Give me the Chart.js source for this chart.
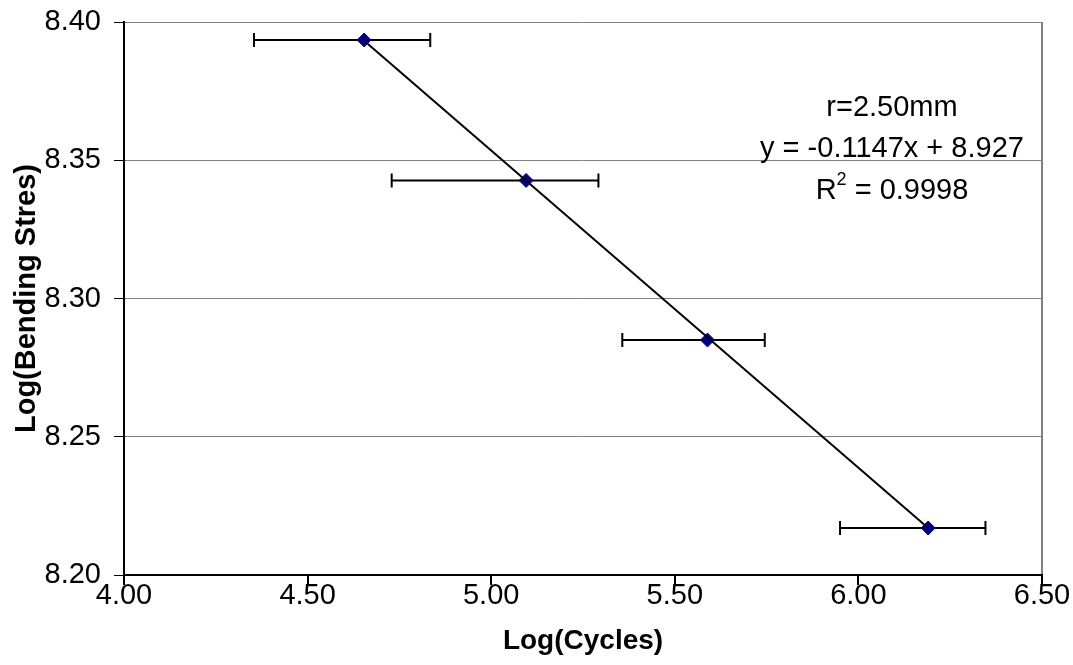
<!DOCTYPE html>
<html>
<head>
<meta charset="utf-8">
<script src="https://cdn.jsdelivr.net/npm/chart.js@4.4.0/dist/chart.umd.min.js"></script>
<style>
    body { margin: 0; background: #fff; }
</style>
</head>
<body>
<canvas id="fatigueChart" width="1073" height="665"></canvas>
<script>
// Data
const logCycles = [4.654, 5.095, 5.589, 6.190];
const logStress = [8.3935, 8.3427, 8.2850, 8.2170];
const cyclesLow = [4.354, 4.729, 5.357, 5.950];
const cyclesHigh = [4.834, 5.292, 5.745, 6.346];
const trendSlope = -0.1147;
const trendIntercept = 8.927;
const xTicks = [4.0, 6.5, 0.5];   // min, max, step
const yTicks = [8.2, 8.4, 0.05];
const noteLines = ['r=2.50mm', 'y = -0.1147x + 8.927', '0.9998'];

const FONT = '"Liberation Sans", Arial, sans-serif';

// Trendline spans the data range, like Excel does
const trendX = [logCycles[0], logCycles[logCycles.length - 1]];
const trendPoints = trendX.map(x => ({ x: x, y: trendSlope * x + trendIntercept }));

const errorBarPlugin = {
    id: 'errorBars',
    beforeDatasetsDraw(chart) {
        const { ctx, scales: { x, y } } = chart;
        ctx.save();
        ctx.strokeStyle = '#000';
        ctx.lineWidth = 2;
        logCycles.forEach((v, i) => {
            const py = y.getPixelForValue(logStress[i]);
            const x1 = x.getPixelForValue(cyclesLow[i]);
            const x2 = x.getPixelForValue(cyclesHigh[i]);
            ctx.beginPath();
            ctx.moveTo(x1, py);
            ctx.lineTo(x2, py);
            ctx.moveTo(x1, py - 7);
            ctx.lineTo(x1, py + 7);
            ctx.moveTo(x2, py - 7);
            ctx.lineTo(x2, py + 7);
            ctx.stroke();
        });
        ctx.restore();
    }
};

const notePlugin = {
    id: 'trendNote',
    afterDraw(chart) {
        const ctx = chart.ctx;
        const cx = 892;
        ctx.save();
        ctx.fillStyle = '#000';
        ctx.textBaseline = 'alphabetic';
        ctx.textAlign = 'center';
        ctx.font = '29px ' + FONT;
        ctx.fillText(noteLines[0], cx, 116);
        ctx.fillText(noteLines[1], cx, 157);

        // R² line with a raised 2
        const rest = ' = ' + noteLines[2];
        const wR = ctx.measureText('R').width;
        const wRest = ctx.measureText(rest).width;
        ctx.font = '18px ' + FONT;
        const wSup = ctx.measureText('2').width;
        let start = cx - (wR + wSup + wRest) / 2;
        ctx.textAlign = 'left';
        ctx.font = '29px ' + FONT;
        ctx.fillText('R', start, 199);
        ctx.font = '18px ' + FONT;
        ctx.fillText('2', start + wR, 185);
        ctx.font = '29px ' + FONT;
        ctx.fillText(rest, start + wR + wSup, 199);
        ctx.restore();
    }
};

const ctx = document.getElementById('fatigueChart').getContext('2d');
new Chart(ctx, {
    type: 'scatter',
    data: {
        datasets: [{
            label: 'Trend',
            type: 'line',
            data: trendPoints,
            borderColor: '#000',
            borderWidth: 2,
            pointRadius: 0,
            fill: false,
            order: 0
        }, {
            label: 'r=2.50mm',
            data: logCycles.map((x, i) => ({ x: x, y: logStress[i] })),
            pointStyle: 'rectRot',
            pointRadius: 7,
            backgroundColor: '#000080',
            borderColor: '#000080',
            borderWidth: 1,
            order: 1
        }]
    },
    options: {
        responsive: false,
        animation: false,
        layout: { padding: { top: 22, right: 31, left: 0, bottom: 0 } },
        plugins: {
            legend: { display: false },
            tooltip: { enabled: false }
        },
        scales: {
            x: {
                type: 'linear',
                min: xTicks[0],
                max: xTicks[1],
                ticks: {
                    stepSize: xTicks[2],
                    callback: v => v.toFixed(2),
                    color: '#000',
                    font: { family: FONT, size: 29 },
                    padding: -6,
                    maxRotation: 0
                },
                grid: {
                    color: c => (c.tick && Math.abs(c.tick.value - xTicks[1]) < 1e-6) ? '#808080' : 'transparent',
                    lineWidth: 2,
                    tickColor: '#000',
                    tickLength: 10
                },
                border: { color: '#000', width: 2 },
                title: {
                    display: true,
                    text: 'Log(Cycles)',
                    color: '#000',
                    font: { family: FONT, size: 28, weight: 'bold' },
                    padding: { top: 0, bottom: 7 }
                },
                afterFit: s => {
                    s.height = 90;
                    s.paddingLeft = 0;
                    s.paddingRight = 0;
                }
            },
            y: {
                min: yTicks[0],
                max: yTicks[1],
                ticks: {
                    stepSize: yTicks[2],
                    callback: v => v.toFixed(2),
                    color: '#000',
                    font: { family: FONT, size: 29 },
                    padding: 13
                },
                grid: {
                    color: '#808080',
                    lineWidth: 1,
                    tickColor: '#000',
                    tickLength: 10
                },
                border: { color: '#000', width: 2 },
                title: {
                    display: true,
                    text: 'Log(Bending Stres)',
                    color: '#000',
                    font: { family: FONT, size: 29, weight: 'bold' },
                    padding: { top: 10, bottom: 0 }
                },
                afterFit: s => {
                    s.width = 124;
                    s.paddingTop = 0;
                    s.paddingBottom = 0;
                }
            }
        }
    },
    plugins: [errorBarPlugin, notePlugin]
});
</script>
</body>
</html>
